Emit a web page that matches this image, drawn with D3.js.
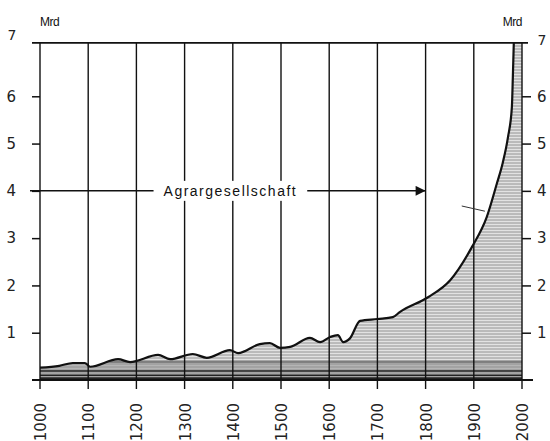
<!DOCTYPE html>
<html>
<head>
<meta charset="utf-8">
<script src="https://cdn.jsdelivr.net/npm/d3@7"></script>
<style>
  body { margin: 0; background: #fff; }
  svg { display: block; }
</style>
</head>
<body>
<svg id="chart" width="550" height="441"></svg>
<script>
// Weltbevölkerung in Mrd
const years = [1000, 1040, 1068, 1093, 1104, 1162, 1187, 1245, 1270, 1317, 1346, 1394, 1411,
  1456, 1477, 1498, 1519, 1560, 1581, 1602, 1618, 1629, 1643, 1664, 1700,
  1732, 1747, 1805, 1851, 1896, 1927, 1948, 1960, 1971, 1979, 1981, 1983];
const population = [0.26, 0.30, 0.36, 0.36, 0.28, 0.44, 0.38, 0.53, 0.44, 0.55, 0.47, 0.63, 0.57,
  0.76, 0.78, 0.68, 0.70, 0.89, 0.80, 0.91, 0.95, 0.80, 0.88, 1.25, 1.29,
  1.33, 1.44, 1.75, 2.11, 2.81, 3.45, 4.16, 4.59, 5.14, 5.77, 6.4, 7.13];
const gridYears = [1000, 1100, 1200, 1300, 1400, 1500, 1600, 1700, 1800, 1900, 2000];
const yTicks = [1, 2, 3, 4, 5, 6];
const darkStripes = [0.04, 0.1, 0.19];
const lightStripes = [0.38];
const arrowValue = 4;
const arrowEnd = 1800;
const labelText = "Agrargesellschaft";

const svg = d3.select("#chart");
const x = d3.scaleLinear().domain([1000, 2000]).range([40, 522]);
const y = d3.scaleLinear().domain([0, 7]).range([380, 49]);
const yTop = 7.13;
const data = years.map((d, i) => ({ year: d, value: population[i] }));

const defs = svg.append("defs");
const pat = defs.append("pattern").attr("id", "hatch")
  .attr("patternUnits", "userSpaceOnUse").attr("width", 10).attr("height", 3);
pat.append("rect").attr("width", 10).attr("height", 3).attr("fill", "#e2e2e2");
pat.append("line").attr("x1", 0).attr("x2", 10).attr("y1", 1).attr("y2", 1)
  .attr("stroke", "#8a8a8a").attr("stroke-width", 0.9);

const area = d3.area().x(d => x(d.year)).y0(y(0)).y1(d => y(d.value)).curve(d3.curveMonotoneX);
const line = d3.line().x(d => x(d.year)).y(d => y(d.value)).curve(d3.curveMonotoneX);
const areaData = data.concat([{ year: 2000, value: yTop }]);

defs.append("clipPath").attr("id", "areaClip").append("path").attr("d", area(areaData));

svg.append("path").attr("d", area(areaData)).attr("fill", "url(#hatch)");

const stripes = svg.append("g").attr("clip-path", "url(#areaClip)");
stripes.append("rect").attr("x", x(1000)).attr("width", x(2000) - x(1000))
  .attr("y", y(0.42)).attr("height", y(0) - y(0.42)).attr("fill", "#8f8f8f").attr("opacity", 0.55);
stripes.selectAll("line.dark").data(darkStripes).join("line").attr("class", "dark")
  .attr("x1", x(1000)).attr("x2", x(2000))
  .attr("y1", d => y(d)).attr("y2", d => y(d))
  .attr("stroke", "#222").attr("stroke-width", 1.6);
stripes.selectAll("line.light").data(lightStripes).join("line").attr("class", "light")
  .attr("x1", x(1000)).attr("x2", x(2000))
  .attr("y1", d => y(d)).attr("y2", d => y(d))
  .attr("stroke", "#555").attr("stroke-width", 1);

// curve outline
svg.append("path").attr("d", line(data)).attr("fill", "none")
  .attr("stroke", "#111").attr("stroke-width", 2.2);

// vertical grid lines with ticks below baseline
svg.append("g").selectAll("line").data(gridYears).join("line")
  .attr("x1", d => x(d)).attr("x2", d => x(d))
  .attr("y1", y(yTop)).attr("y2", y(0) + 9)
  .attr("stroke", "#111").attr("stroke-width", 1.4);

// top and bottom lines
svg.append("line").attr("x1", x(1000) - 8).attr("x2", x(2000) + 6)
  .attr("y1", y(yTop)).attr("y2", y(yTop)).attr("stroke", "#111").attr("stroke-width", 1.8);
svg.append("line").attr("x1", x(1000) - 8).attr("x2", x(2000) + 11)
  .attr("y1", y(0)).attr("y2", y(0)).attr("stroke", "#111").attr("stroke-width", 2);

// y axes
const leftAxis = d3.axisLeft(y).tickValues(yTicks).tickSize(8).tickPadding(16).tickFormat(d3.format("d"));
const rightAxis = d3.axisRight(y).tickValues(yTicks).tickSize(9).tickPadding(6).tickFormat(d3.format("d"));
const gl = svg.append("g").attr("transform", `translate(${x(1000)},0)`).call(leftAxis);
const gr = svg.append("g").attr("transform", `translate(${x(2000)},0)`).call(rightAxis);
[gl, gr].forEach(g => {
  g.select(".domain").remove();
  g.selectAll(".tick line").attr("stroke", "#111").attr("stroke-width", 1.5);
  g.selectAll(".tick text").attr("font-family", "DejaVu Sans, sans-serif")
    .attr("font-size", 15).attr("fill", "#222");
});

// 7 at top and unit labels
svg.append("text").attr("x", 12).attr("y", y(7) - 9).attr("text-anchor", "middle")
  .attr("font-family", "DejaVu Sans, sans-serif").attr("font-size", 14).attr("fill", "#222").text("7");
svg.append("text").attr("x", x(2000) + 20).attr("y", y(7) - 4).attr("text-anchor", "middle")
  .attr("font-family", "DejaVu Sans, sans-serif").attr("font-size", 14).attr("fill", "#222").text("7");
svg.append("text").attr("x", x(1000)).attr("y", 26)
  .attr("font-family", "Liberation Sans, Arial, sans-serif").attr("font-size", 12)
  .attr("letter-spacing", -0.5).attr("fill", "#111").text("Mrd");
svg.append("text").attr("x", x(2000)).attr("y", 26).attr("text-anchor", "end")
  .attr("font-family", "Liberation Sans, Arial, sans-serif").attr("font-size", 12)
  .attr("letter-spacing", -0.5).attr("fill", "#111").text("Mrd");

// arrow "Agrargesellschaft"
defs.append("marker").attr("id", "arrowHead").attr("viewBox", "0 0 10 10")
  .attr("refX", 10).attr("refY", 5).attr("markerWidth", 12).attr("markerHeight", 10)
  .attr("markerUnits", "userSpaceOnUse").attr("orient", "auto")
  .append("path").attr("d", "M0,0L10,5L0,10Z").attr("fill", "#111");
svg.append("line").attr("x1", x(1000) - 10).attr("x2", x(arrowEnd))
  .attr("y1", y(arrowValue)).attr("y2", y(arrowValue))
  .attr("stroke", "#111").attr("stroke-width", 1.5).attr("marker-end", "url(#arrowHead)");
const lblBg = svg.append("rect").attr("fill", "#fff");
const lbl = svg.append("text").attr("x", x(1395)).attr("y", y(arrowValue) + 5)
  .attr("text-anchor", "middle").attr("font-family", "Liberation Sans, Arial, sans-serif")
  .attr("font-size", 14).attr("letter-spacing", 1.5).attr("fill", "#111").text(labelText);
const bb = lbl.node().getBBox();
lblBg.attr("x", bb.x - 10).attr("y", bb.y - 2)
  .attr("width", bb.width + 20).attr("height", bb.height + 4);

// small pointer stroke
svg.append("line").attr("x1", x(1875)).attr("x2", x(1923))
  .attr("y1", y(3.68)).attr("y2", y(3.57)).attr("stroke", "#333").attr("stroke-width", 1);

// year labels, rotated
svg.append("g").selectAll("text").data(gridYears).join("text")
  .attr("transform", d => `translate(${x(d) + 6},${y(0) + 23}) rotate(-90)`)
  .attr("text-anchor", "end").attr("font-family", "DejaVu Sans, sans-serif")
  .attr("font-size", 15).attr("fill", "#222").text(d => d);
</script>
</body>
</html>
